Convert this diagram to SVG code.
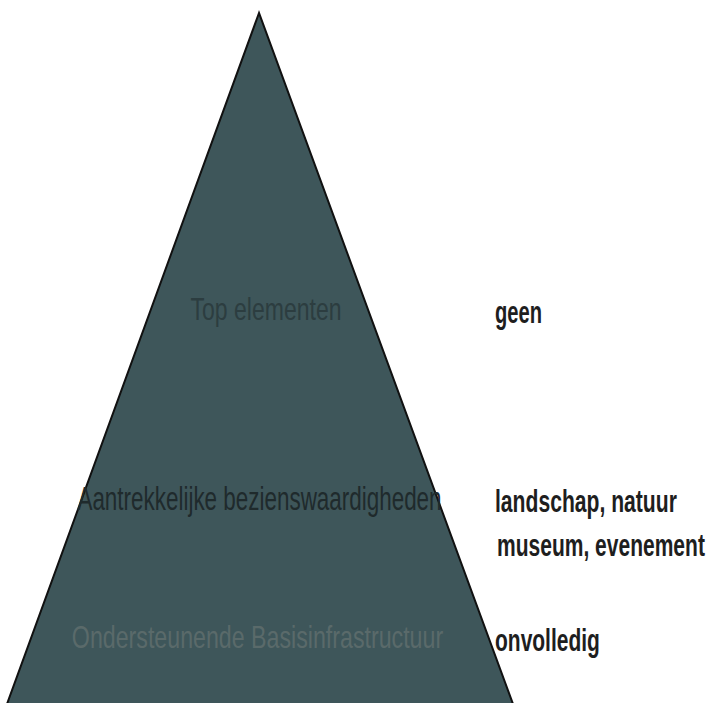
<svg xmlns="http://www.w3.org/2000/svg" width="710" height="703" viewBox="0 0 710 703">
<style>
.lvl{font-family:"Liberation Sans",Arial,sans-serif;text-anchor:middle}
.lab{font-family:"Liberation Sans",Arial,sans-serif;font-size:32px;font-weight:bold;fill:#1e1e1e}
</style>
<rect width="710" height="703" fill="#ffffff"/>
<g id="pyramid">
<polygon points="259,13 7,704 513,704" fill="#3e565a" stroke="#111" stroke-width="2" stroke-linejoin="miter"/>
</g>
<g id="level-top">
<text class="lvl" font-size="32" fill="#2c3d40" transform="translate(266,320) scale(0.72,1)">Top elementen</text>
</g>
<g id="level-middle">
<text class="lvl" font-size="34" fill="#1f2a2c" transform="translate(259.5,510) scale(0.66,1)">Aantrekkelijke bezienswaardigheden</text>
</g>
<g id="level-base">
<text class="lvl" font-size="32" fill="#5a6a6a" transform="translate(257.5,648) scale(0.725,1)">Ondersteunende Basisinfrastructuur</text>
</g>
<g id="labels">
<text class="lab" transform="translate(495,323) scale(0.63,1)">geen</text>
<text class="lab" transform="translate(495,512) scale(0.66,1)">landschap, natuur</text>
<text class="lab" transform="translate(497,556) scale(0.657,1)">museum, evenement</text>
<text class="lab" transform="translate(495,651) scale(0.656,1)">onvolledig</text>
</g>
</svg>
